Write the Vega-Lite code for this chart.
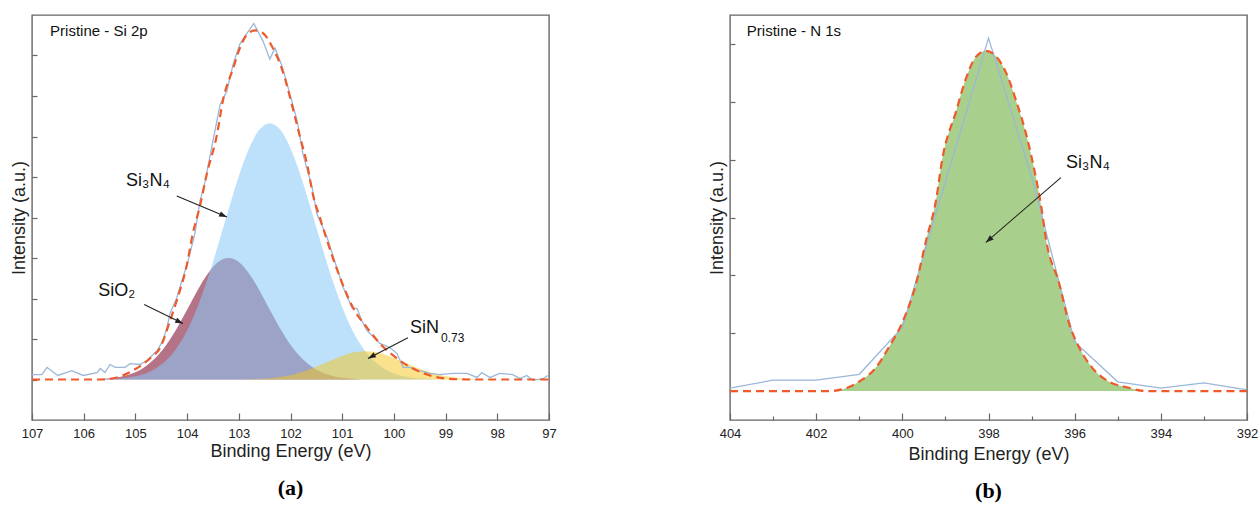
{
  "$schema": "https://vega.github.io/schema/vega-lite/v6.json",
  "background": "white",
  "padding": {"left": 9, "top": 14, "right": 5, "bottom": 0},
  "spacing": 150,
  "config": {
    "view": {"stroke": "#666666", "strokeWidth": 1.4},
    "font": "Liberation Sans",
    "axis": {
      "labelFont": "Liberation Sans", "titleFont": "Liberation Sans", "titleFontWeight": "normal",
      "grid": false, "domain": false, "tickColor": "#666666", "tickWidth": 1.2,
      "labelColor": "#222222", "titleColor": "#222222", "labelFontSize": 13, "titleFontSize": 18
    },
    "title": {"font": "Liberation Serif", "fontSize": 22, "fontWeight": "bold", "color": "#000000"}
  },
  "datasets": {
    "sio2": [
      {"eV": 105.8, "I": 0}, {"eV": 105.6, "I": 0.02}, {"eV": 105.4, "I": 0.045}, {"eV": 105.2, "I": 0.094},
      {"eV": 105.0, "I": 0.18}, {"eV": 104.8, "I": 0.33}, {"eV": 104.6, "I": 0.55}, {"eV": 104.4, "I": 0.86},
      {"eV": 104.2, "I": 1.26}, {"eV": 104.0, "I": 1.72}, {"eV": 103.8, "I": 2.20}, {"eV": 103.6, "I": 2.61},
      {"eV": 103.4, "I": 2.90}, {"eV": 103.2, "I": 3.0}, {"eV": 103.0, "I": 2.90}, {"eV": 102.8, "I": 2.61},
      {"eV": 102.6, "I": 2.20}, {"eV": 102.4, "I": 1.72}, {"eV": 102.2, "I": 1.26}, {"eV": 102.0, "I": 0.86},
      {"eV": 101.8, "I": 0.55}, {"eV": 101.6, "I": 0.33}, {"eV": 101.4, "I": 0.18}, {"eV": 101.2, "I": 0.094},
      {"eV": 101.0, "I": 0.045}, {"eV": 100.8, "I": 0.02}, {"eV": 100.6, "I": 0}
    ],
    "si3n4": [
      {"eV": 106.0, "I": 0}, {"eV": 105.6, "I": 0.005}, {"eV": 105.4, "I": 0.02}, {"eV": 105.2, "I": 0.04},
      {"eV": 105.0, "I": 0.08}, {"eV": 104.8, "I": 0.15}, {"eV": 104.6, "I": 0.28}, {"eV": 104.4, "I": 0.48},
      {"eV": 104.2, "I": 0.78}, {"eV": 104.0, "I": 1.21}, {"eV": 103.8, "I": 1.79}, {"eV": 103.6, "I": 2.50},
      {"eV": 103.4, "I": 3.32}, {"eV": 103.2, "I": 4.19}, {"eV": 103.0, "I": 5.02}, {"eV": 102.8, "I": 5.71},
      {"eV": 102.6, "I": 6.17}, {"eV": 102.4, "I": 6.33}, {"eV": 102.2, "I": 6.17}, {"eV": 102.0, "I": 5.71},
      {"eV": 101.8, "I": 5.02}, {"eV": 101.6, "I": 4.19}, {"eV": 101.4, "I": 3.32}, {"eV": 101.2, "I": 2.50},
      {"eV": 101.0, "I": 1.79}, {"eV": 100.8, "I": 1.21}, {"eV": 100.6, "I": 0.78}, {"eV": 100.4, "I": 0.48},
      {"eV": 100.2, "I": 0.28}, {"eV": 100.0, "I": 0.15}, {"eV": 99.8, "I": 0.08}, {"eV": 99.6, "I": 0.04},
      {"eV": 99.4, "I": 0.02}, {"eV": 99.2, "I": 0.005}, {"eV": 98.8, "I": 0}
    ],
    "sin073": [
      {"eV": 102.95, "I": 0}, {"eV": 102.75, "I": 0.01}, {"eV": 102.55, "I": 0.02}, {"eV": 102.35, "I": 0.039},
      {"eV": 102.15, "I": 0.072}, {"eV": 101.95, "I": 0.123}, {"eV": 101.75, "I": 0.195}, {"eV": 101.55, "I": 0.288},
      {"eV": 101.35, "I": 0.396}, {"eV": 101.15, "I": 0.508}, {"eV": 100.95, "I": 0.607}, {"eV": 100.75, "I": 0.676},
      {"eV": 100.55, "I": 0.70}, {"eV": 100.35, "I": 0.676}, {"eV": 100.15, "I": 0.607}, {"eV": 99.95, "I": 0.508},
      {"eV": 99.75, "I": 0.396}, {"eV": 99.55, "I": 0.288}, {"eV": 99.35, "I": 0.195}, {"eV": 99.15, "I": 0.123},
      {"eV": 98.95, "I": 0.072}, {"eV": 98.75, "I": 0.039}, {"eV": 98.55, "I": 0.02}, {"eV": 98.35, "I": 0.01},
      {"eV": 98.15, "I": 0}
    ],
    "rawSi": [
      {"eV": 107.00, "I": 0.12}, {"eV": 106.81, "I": 0.12}, {"eV": 106.71, "I": 0.30}, {"eV": 106.50, "I": 0.10},
      {"eV": 106.23, "I": 0.22}, {"eV": 106.01, "I": 0.10}, {"eV": 105.74, "I": 0.17}, {"eV": 105.68, "I": 0.27},
      {"eV": 105.59, "I": 0.17}, {"eV": 105.49, "I": 0.37}, {"eV": 105.39, "I": 0.30}, {"eV": 105.20, "I": 0.30},
      {"eV": 105.10, "I": 0.39}, {"eV": 104.91, "I": 0.37}, {"eV": 104.78, "I": 0.47}, {"eV": 104.58, "I": 0.71},
      {"eV": 104.47, "I": 0.96}, {"eV": 104.39, "I": 1.28}, {"eV": 104.33, "I": 1.63}, {"eV": 104.20, "I": 2.02},
      {"eV": 104.10, "I": 2.44}, {"eV": 103.98, "I": 2.93}, {"eV": 103.85, "I": 3.60}, {"eV": 103.75, "I": 4.41},
      {"eV": 103.65, "I": 4.90}, {"eV": 103.50, "I": 5.89}, {"eV": 103.36, "I": 6.80}, {"eV": 103.23, "I": 7.12},
      {"eV": 103.11, "I": 7.78}, {"eV": 102.98, "I": 8.28}, {"eV": 102.84, "I": 8.55}, {"eV": 102.71, "I": 8.79},
      {"eV": 102.53, "I": 8.35}, {"eV": 102.40, "I": 7.91}, {"eV": 102.30, "I": 8.18}, {"eV": 102.16, "I": 7.73},
      {"eV": 102.01, "I": 7.04}, {"eV": 101.87, "I": 6.38}, {"eV": 101.76, "I": 5.57}, {"eV": 101.58, "I": 4.73},
      {"eV": 101.49, "I": 4.09}, {"eV": 101.29, "I": 3.50}, {"eV": 100.98, "I": 2.27}, {"eV": 100.81, "I": 1.77},
      {"eV": 100.71, "I": 1.75}, {"eV": 100.62, "I": 1.45}, {"eV": 100.52, "I": 1.21}, {"eV": 100.27, "I": 0.89},
      {"eV": 100.08, "I": 0.79}, {"eV": 99.94, "I": 0.64}, {"eV": 99.82, "I": 0.30}, {"eV": 99.69, "I": 0.30},
      {"eV": 99.55, "I": 0.22}, {"eV": 99.44, "I": 0.20}, {"eV": 99.30, "I": 0.15}, {"eV": 99.11, "I": 0.12},
      {"eV": 98.86, "I": 0.15}, {"eV": 98.59, "I": 0.15}, {"eV": 98.39, "I": 0.05}, {"eV": 98.30, "I": 0.17},
      {"eV": 98.14, "I": 0.05}, {"eV": 97.95, "I": 0.15}, {"eV": 97.70, "I": 0.12}, {"eV": 97.56, "I": 0.02},
      {"eV": 97.43, "I": 0.10}, {"eV": 97.31, "I": -0.02}, {"eV": 97.12, "I": 0.02}, {"eV": 97.02, "I": 0.10}
    ],
    "envSi": [
      {"eV": 107.0, "I": 0}, {"eV": 105.68, "I": 0}, {"eV": 105.36, "I": 0.05}, {"eV": 105.05, "I": 0.22},
      {"eV": 104.72, "I": 0.52}, {"eV": 104.52, "I": 0.79}, {"eV": 104.33, "I": 1.45}, {"eV": 104.20, "I": 1.95},
      {"eV": 104.00, "I": 2.86}, {"eV": 103.89, "I": 3.60}, {"eV": 103.75, "I": 4.29}, {"eV": 103.62, "I": 5.07},
      {"eV": 103.42, "I": 6.06}, {"eV": 103.31, "I": 6.87}, {"eV": 103.11, "I": 7.68}, {"eV": 102.98, "I": 8.18},
      {"eV": 102.84, "I": 8.52}, {"eV": 102.69, "I": 8.62}, {"eV": 102.53, "I": 8.55}, {"eV": 102.34, "I": 8.18},
      {"eV": 102.15, "I": 7.61}, {"eV": 101.95, "I": 6.67}, {"eV": 101.82, "I": 6.01}, {"eV": 101.68, "I": 5.32},
      {"eV": 101.56, "I": 4.53}, {"eV": 101.43, "I": 3.99}, {"eV": 101.29, "I": 3.42}, {"eV": 101.04, "I": 2.51},
      {"eV": 100.79, "I": 1.77}, {"eV": 100.52, "I": 1.28}, {"eV": 100.27, "I": 0.89}, {"eV": 99.94, "I": 0.52},
      {"eV": 99.63, "I": 0.27}, {"eV": 99.30, "I": 0.10}, {"eV": 98.97, "I": 0.02}, {"eV": 98.53, "I": 0},
      {"eV": 97.0, "I": 0}
    ],
    "arrowsSi": [
      {"name": "Si3N4", "eV": 104.20, "I": 4.53, "eV2": 103.23, "I2": 4.01},
      {"name": "SiO2", "eV": 104.83, "I": 1.85, "eV2": 104.08, "I2": 1.38},
      {"name": "SiN", "eV": 99.73, "I": 1.03, "eV2": 100.50, "I2": 0.52}
    ],
    "headsSi": [
      {"name": "Si3N4", "eV": 103.23, "I": 4.01},
      {"name": "SiO2", "eV": 104.08, "I": 1.38},
      {"name": "SiN", "eV": 100.50, "I": 0.52}
    ],
    "labelsSi": [
      {"eV": 105.18, "I": 4.90, "text": "Si₃N₄"},
      {"eV": 105.72, "I": 2.19, "text": "SiO₂"},
      {"eV": 99.69, "I": 1.26, "text": "SiN"}
    ],
    "subSi": [{"eV": 99.09, "I": 1.03, "text": "0.73"}],
    "titleSi": [{"eV": 106.65, "I": 8.60, "text": "Pristine - Si 2p"}],
    "envN": [
      {"eV": 404.0, "I": 0}, {"eV": 401.70, "I": 0}, {"eV": 401.31, "I": 0.05}, {"eV": 401.01, "I": 0.16},
      {"eV": 400.61, "I": 0.41}, {"eV": 400.31, "I": 0.76}, {"eV": 400.01, "I": 1.17}, {"eV": 399.68, "I": 1.86},
      {"eV": 399.45, "I": 2.60}, {"eV": 399.22, "I": 3.29}, {"eV": 399.08, "I": 3.98}, {"eV": 398.75, "I": 4.84},
      {"eV": 398.52, "I": 5.41}, {"eV": 398.29, "I": 5.78}, {"eV": 398.06, "I": 5.88}, {"eV": 397.83, "I": 5.79},
      {"eV": 397.59, "I": 5.50}, {"eV": 397.36, "I": 5.02}, {"eV": 397.13, "I": 4.45}, {"eV": 396.90, "I": 3.69},
      {"eV": 396.78, "I": 3.21}, {"eV": 396.66, "I": 2.60}, {"eV": 396.36, "I": 1.86}, {"eV": 396.13, "I": 1.17},
      {"eV": 395.90, "I": 0.76}, {"eV": 395.60, "I": 0.41}, {"eV": 395.20, "I": 0.16}, {"eV": 394.81, "I": 0.07},
      {"eV": 394.34, "I": 0}, {"eV": 392.0, "I": 0}
    ],
    "rawN": [
      {"eV": 404, "I": 0.05}, {"eV": 403, "I": 0.19}, {"eV": 402, "I": 0.19}, {"eV": 401, "I": 0.29},
      {"eV": 400, "I": 1.10}, {"eV": 399, "I": 3.62}, {"eV": 398, "I": 6.10}, {"eV": 397, "I": 3.71},
      {"eV": 396, "I": 0.85}, {"eV": 395, "I": 0.16}, {"eV": 394, "I": 0.05}, {"eV": 393, "I": 0.14},
      {"eV": 392, "I": 0.02}
    ],
    "arrowsN": [{"name": "Si3N4", "eV": 396.32, "I": 3.69, "eV2": 398.06, "I2": 2.57}],
    "headsN": [{"name": "Si3N4", "eV": 398.06, "I": 2.57}],
    "labelsN": [{"eV": 396.20, "I": 3.95, "text": "Si₃N₄"}],
    "titleN": [{"eV": 403.61, "I": 6.22, "text": "Pristine - N 1s"}]
  },
  "hconcat": [
    {
      "width": 517,
      "height": 405,
      "title": {"text": "(a)", "orient": "bottom", "anchor": "middle", "frame": "group", "offset": 18},
      "encoding": {
        "x": {
          "field": "eV", "type": "quantitative", "title": "Binding Energy (eV)",
          "scale": {"domain": [97, 107], "reverse": true, "nice": false, "zero": false},
          "axis": {
            "values": [97, 97.5, 98, 98.5, 99, 99.5, 100, 100.5, 101, 101.5, 102, 102.5, 103, 103.5, 104, 104.5, 105, 105.5, 106, 106.5, 107],
            "format": "d",
            "labelExpr": "datum.value % 1 === 0 ? datum.label : ''",
            "tickSize": {"condition": {"test": "datum.value % 1 === 0", "value": -7}, "value": -4},
            "labelPadding": 14, "labelFlush": false, "labelOverlap": false, "titlePadding": 2
          }
        },
        "y": {
          "field": "I", "type": "quantitative", "title": "Intensity (a.u.)",
          "scale": {"domain": [-1, 9], "nice": false, "zero": false},
          "axis": {"values": [0, 1, 2, 3, 4, 5, 6, 7, 8], "labels": false, "tickSize": -5, "titlePadding": 3}
        }
      },
      "layer": [
        {"data": {"name": "sio2"}, "mark": {"type": "area", "color": "#b47387", "interpolate": "monotone"}, "encoding": {"y2": {"datum": 0}}},
        {"data": {"name": "si3n4"}, "mark": {"type": "area", "color": "#8bc8f8", "opacity": 0.57, "interpolate": "monotone"}, "encoding": {"y2": {"datum": 0}}},
        {"data": {"name": "sin073"}, "mark": {"type": "area", "color": "#f6c519", "opacity": 0.5, "interpolate": "monotone"}, "encoding": {"y2": {"datum": 0}}},
        {"data": {"name": "rawSi"}, "mark": {"type": "line", "color": "#9bb7d9", "strokeWidth": 1.3}, "encoding": {}},
        {"data": {"name": "envSi"}, "mark": {"type": "line", "color": "#ef5a2a", "strokeWidth": 2.2, "strokeDash": [8, 5], "interpolate": "monotone"}, "encoding": {}},
        {"data": {"name": "arrowsSi"}, "mark": {"type": "rule", "color": "#222222", "strokeWidth": 1.1}, "encoding": {"x2": {"field": "eV2"}, "y2": {"field": "I2"}}},
        {"data": {"name": "headsSi"}, "transform": [{"filter": "datum.name === 'Si3N4'"}], "mark": {"type": "point", "shape": "M0,0L0.8,2.2L-0.8,2.2Z", "filled": true, "color": "#222222", "opacity": 1, "size": 50, "angle": 113.7}, "encoding": {}},
        {"data": {"name": "headsSi"}, "transform": [{"filter": "datum.name === 'SiO2'"}], "mark": {"type": "point", "shape": "M0,0L0.8,2.2L-0.8,2.2Z", "filled": true, "color": "#222222", "opacity": 1, "size": 50, "angle": 116}, "encoding": {}},
        {"data": {"name": "headsSi"}, "transform": [{"filter": "datum.name === 'SiN'"}], "mark": {"type": "point", "shape": "M0,0L0.8,2.2L-0.8,2.2Z", "filled": true, "color": "#222222", "opacity": 1, "size": 50, "angle": 242.3}, "encoding": {}},
        {"data": {"name": "labelsSi"}, "mark": {"type": "text", "align": "left", "baseline": "middle", "fontSize": 18, "font": "Liberation Sans", "color": "#111111"}, "encoding": {"text": {"field": "text"}}},
        {"data": {"name": "subSi"}, "mark": {"type": "text", "align": "left", "baseline": "middle", "fontSize": 12, "font": "Liberation Sans", "color": "#111111"}, "encoding": {"text": {"field": "text"}}},
        {"data": {"name": "titleSi"}, "mark": {"type": "text", "align": "left", "baseline": "middle", "fontSize": 15, "font": "Liberation Sans", "color": "#111111"}, "encoding": {"text": {"field": "text"}}}
      ]
    },
    {
      "width": 517,
      "height": 405,
      "title": {"text": "(b)", "orient": "bottom", "anchor": "middle", "frame": "group", "offset": 18},
      "encoding": {
        "x": {
          "field": "eV", "type": "quantitative", "title": "Binding Energy (eV)",
          "scale": {"domain": [392, 404], "reverse": true, "nice": false, "zero": false},
          "axis": {
            "values": [392, 393, 394, 395, 396, 397, 398, 399, 400, 401, 402, 403, 404],
            "format": "d",
            "labelExpr": "datum.value % 2 === 0 ? datum.label : ''",
            "tickSize": {"condition": {"test": "datum.value % 2 === 0", "value": -7}, "value": -4},
            "labelPadding": 14, "labelFlush": false, "labelOverlap": false, "titlePadding": 2
          }
        },
        "y": {
          "field": "I", "type": "quantitative", "title": "Intensity (a.u.)",
          "scale": {"domain": [-0.5, 6.5], "nice": false, "zero": false},
          "axis": {"values": [0, 1, 2, 3, 4, 5, 6], "labels": false, "tickSize": -5, "titlePadding": 3}
        }
      },
      "layer": [
        {"data": {"name": "envN"}, "mark": {"type": "area", "color": "#a8cf8c", "interpolate": "monotone"}, "encoding": {"y2": {"datum": 0}}},
        {"data": {"name": "rawN"}, "mark": {"type": "line", "color": "#9bb7d9", "strokeWidth": 1.3}, "encoding": {}},
        {"data": {"name": "envN"}, "mark": {"type": "line", "color": "#ef5a2a", "strokeWidth": 2.2, "strokeDash": [8, 5], "interpolate": "monotone"}, "encoding": {}},
        {"data": {"name": "arrowsN"}, "mark": {"type": "rule", "color": "#222222", "strokeWidth": 1.1}, "encoding": {"x2": {"field": "eV2"}, "y2": {"field": "I2"}}},
        {"data": {"name": "headsN"}, "mark": {"type": "point", "shape": "M0,0L0.8,2.2L-0.8,2.2Z", "filled": true, "color": "#222222", "opacity": 1, "size": 50, "angle": 229.1}, "encoding": {}},
        {"data": {"name": "labelsN"}, "mark": {"type": "text", "align": "left", "baseline": "middle", "fontSize": 18, "font": "Liberation Sans", "color": "#111111"}, "encoding": {"text": {"field": "text"}}},
        {"data": {"name": "titleN"}, "mark": {"type": "text", "align": "left", "baseline": "middle", "fontSize": 15, "font": "Liberation Sans", "color": "#111111"}, "encoding": {"text": {"field": "text"}}}
      ]
    }
  ]
}
